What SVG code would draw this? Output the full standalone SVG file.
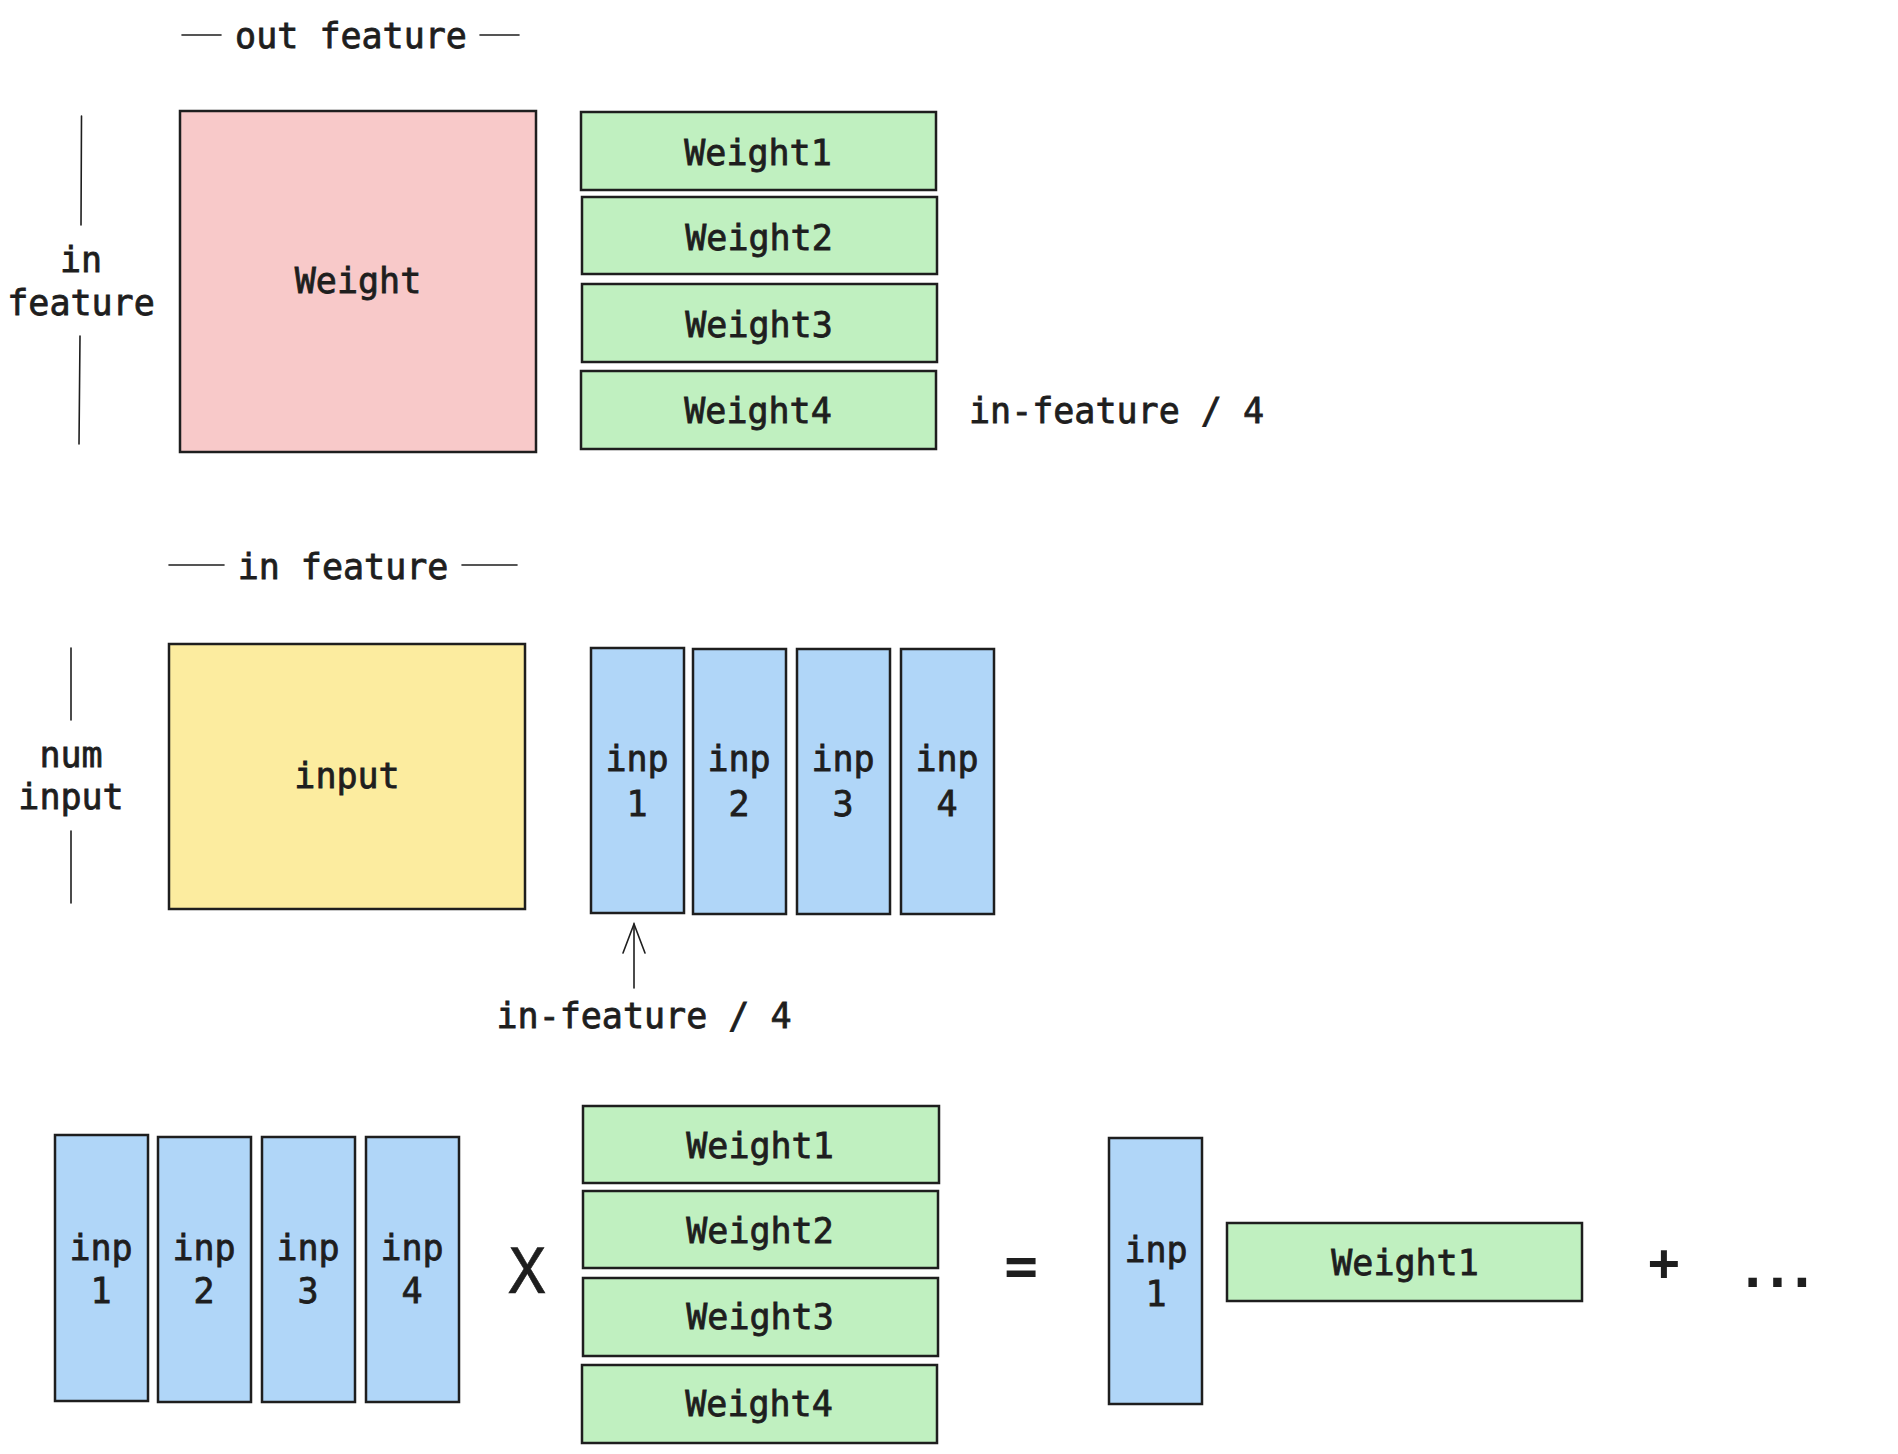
<svg xmlns="http://www.w3.org/2000/svg" width="1898" height="1454" viewBox="0 0 1898 1454">
<style>
  text { font-family: "DejaVu Sans Mono", "Liberation Mono", monospace; font-size: 35px; fill: #1e1e1e; stroke: #1e1e1e; stroke-width: 0.8; text-anchor: middle; }
  .box { stroke: #1e1e1e; stroke-width: 2.5; }
  .pink { fill: #f8c9c9; }
  .green { fill: #c0f0c0; }
  .blue { fill: #b0d6f8; }
  .yellow { fill: #fcec9f; }
  .dim { stroke: #1e1e1e; stroke-width: 1.6; fill: none; stroke-linecap: round; }
  .start { text-anchor: start; }
  .big { font-weight: bold; stroke-width: 0; }
</style>
<rect width="1898" height="1454" fill="#ffffff"/>

<!-- Top section -->
<g id="label-out-feature">
  <line class="dim" x1="182" y1="35" x2="221" y2="35"/>
  <text x="351" y="48">out feature</text>
  <line class="dim" x1="480" y1="35" x2="519" y2="35"/>
</g>
<g id="label-in-feature-v">
  <line class="dim" x1="81.5" y1="116" x2="81" y2="225"/>
  <text x="81" y="272">in</text>
  <text x="81" y="315">feature</text>
  <line class="dim" x1="80" y1="336" x2="79" y2="444"/>
</g>
<g id="weight">
  <rect class="box pink" x="180" y="111" width="356" height="341"/>
  <text x="358" y="293">Weight</text>
</g>
<g id="weight1-top">
  <rect class="box green" x="581" y="112" width="355" height="78"/>
  <text x="758" y="165">Weight1</text>
</g>
<g id="weight2-top">
  <rect class="box green" x="582" y="197" width="355" height="77"/>
  <text x="759" y="250">Weight2</text>
</g>
<g id="weight3-top">
  <rect class="box green" x="582" y="284" width="355" height="78"/>
  <text x="759" y="337">Weight3</text>
</g>
<g id="weight4-top">
  <rect class="box green" x="581" y="371" width="355" height="78"/>
  <text x="758" y="423">Weight4</text>
</g>
<g id="label-in-feature-4-top">
  <text class="start" x="969" y="423">in-feature / 4</text>
</g>

<!-- Middle section -->
<g id="label-in-feature">
  <line class="dim" x1="169" y1="565" x2="224" y2="565"/>
  <text x="343" y="579">in feature</text>
  <line class="dim" x1="462" y1="565" x2="517" y2="565"/>
</g>
<g id="label-num-input">
  <line class="dim" x1="71" y1="648" x2="71" y2="720"/>
  <text x="71" y="767">num</text>
  <text x="71" y="809">input</text>
  <line class="dim" x1="71" y1="831" x2="71" y2="903"/>
</g>
<g id="input">
  <rect class="box yellow" x="169" y="644" width="356" height="265"/>
  <text x="347" y="788">input</text>
</g>
<g id="inp1-mid">
  <rect class="box blue" x="591" y="648" width="93" height="265"/>
  <text x="637" y="771">inp</text>
  <text x="637" y="816">1</text>
</g>
<g id="inp2-mid">
  <rect class="box blue" x="693" y="649" width="93" height="265"/>
  <text x="739" y="771">inp</text>
  <text x="739" y="816">2</text>
</g>
<g id="inp3-mid">
  <rect class="box blue" x="797" y="649" width="93" height="265"/>
  <text x="843" y="771">inp</text>
  <text x="843" y="816">3</text>
</g>
<g id="inp4-mid">
  <rect class="box blue" x="901" y="649" width="93" height="265"/>
  <text x="947" y="771">inp</text>
  <text x="947" y="816">4</text>
</g>
<g id="label-in-feature-4-mid">
  <text x="644" y="1028">in-feature / 4</text>
</g>

<!-- Bottom section -->
<g id="inp1-bot">
  <rect class="box blue" x="55" y="1135" width="93" height="266"/>
  <text x="101" y="1260">inp</text>
  <text x="101" y="1303">1</text>
</g>
<g id="inp2-bot">
  <rect class="box blue" x="158" y="1137" width="93" height="265"/>
  <text x="204" y="1260">inp</text>
  <text x="204" y="1303">2</text>
</g>
<g id="inp3-bot">
  <rect class="box blue" x="262" y="1137" width="93" height="265"/>
  <text x="308" y="1260">inp</text>
  <text x="308" y="1303">3</text>
</g>
<g id="inp4-bot">
  <rect class="box blue" x="366" y="1137" width="93" height="265"/>
  <text x="412" y="1260">inp</text>
  <text x="412" y="1303">4</text>
</g>
<g id="times">
  <text x="527" y="1293" style="font-size:62px;stroke-width:0.6">X</text>
</g>
<g id="weight1-bot">
  <rect class="box green" x="583" y="1106" width="356" height="77"/>
  <text x="760" y="1158">Weight1</text>
</g>
<g id="weight2-bot">
  <rect class="box green" x="583" y="1191" width="355" height="77"/>
  <text x="760" y="1243">Weight2</text>
</g>
<g id="weight3-bot">
  <rect class="box green" x="583" y="1278" width="355" height="78"/>
  <text x="760" y="1329">Weight3</text>
</g>
<g id="weight4-bot">
  <rect class="box green" x="582" y="1365" width="355" height="78"/>
  <text x="759" y="1416">Weight4</text>
</g>
<g id="equals">
  <text class="big" x="1021" y="1285" style="font-size:56px">=</text>
</g>
<g id="inp1-result">
  <rect class="box blue" x="1109" y="1138" width="93" height="266"/>
  <text x="1156" y="1262">inp</text>
  <text x="1156" y="1306">1</text>
</g>
<g id="weight1-result">
  <rect class="box green" x="1227" y="1223" width="355" height="78"/>
  <text x="1405" y="1275">Weight1</text>
</g>
<g id="plus">
  <text class="big" x="1664" y="1280" style="font-size:52px">+</text>
</g>
<g id="ellipsis">
  <text class="big" x="1774" y="1287" style="font-size:52px;letter-spacing:-6.7px">...</text>
</g>

<g id="connectors">
  <line class="dim" x1="634" y1="988" x2="634" y2="924"/>
  <polyline class="dim" points="623,953 634,924 645,953"/>
</g>
</svg>
